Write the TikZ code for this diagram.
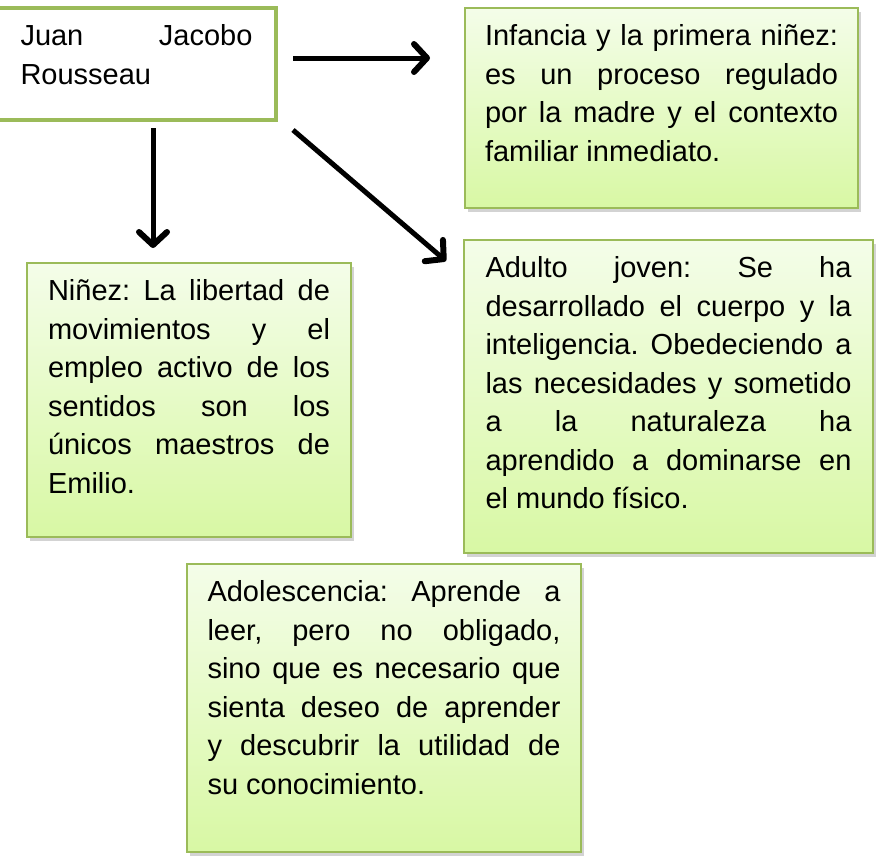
\documentclass[tikz,border=0pt]{standalone}
\usepackage{fontspec}
\setmainfont{Liberation Sans}
\usetikzlibrary{arrows.meta,shadows}

\definecolor{boxline}{HTML}{9BBB59}
\definecolor{boxtop}{HTML}{F4FDE9}
\definecolor{boxbottom}{HTML}{D8F8A4}

\hyphenpenalty=10000
\hbadness=10000
\frenchspacing

\begin{document}
\begin{tikzpicture}[x=1pt, y=-1pt,
    plainbox/.style={rectangle, draw=boxline, line width=2.5pt, outer sep=0pt,
                     anchor=north west, align=justify, inner ysep=0pt, text height=37.5pt,
                     font=\fontsize{29}{38.5}\selectfont},
    greenbox/.style={plainbox, top color=boxtop, bottom color=boxbottom,
                     drop shadow={shadow xshift=2.5pt, shadow yshift=-3.5pt, opacity=.35}},
    arr/.style={line width=5pt, -{Straight Barb[length=13pt,width=28pt,line width=6pt,round]}}]
\useasboundingbox (0,0) rectangle (877,857);

\node[plainbox, line width=3.5pt, fill=white, text width=232pt, inner xsep=23.5pt,
      text depth=74.5pt] (juan) at (-3,8) {Juan Jacobo\linebreak Rousseau};

\node[greenbox, text width=353pt, inner xsep=20pt, text depth=162.5pt] (infancia) at (465,8)
  {Infancia y la primera niñez:\linebreak es un proceso regulado\linebreak
   por la madre y el contexto\linebreak familiar inmediato.};

\node[greenbox, text width=282pt, inner xsep=21pt, text depth=236.5pt] (ninez) at (27,263)
  {Niñez: La libertad de\linebreak movimientos y el\linebreak empleo activo de los\linebreak
   sentidos son los\linebreak únicos maestros de\linebreak Emilio.};

\node[greenbox, text width=366pt, inner xsep=21.5pt, text depth=275.5pt] (adulto) at (464,240)
  {Adulto joven: Se ha\linebreak desarrollado el cuerpo y la\linebreak
   inteligencia. Obedeciendo a\linebreak las necesidades y sometido\linebreak
   a la naturaleza ha\linebreak aprendido a dominarse en\linebreak el mundo físico.};

\node[greenbox, text width=353pt, inner xsep=20.5pt, text depth=250.5pt] (adolescencia) at (187,564)
  {Adolescencia: Aprende a\linebreak leer, pero no obligado,\linebreak
   sino que es necesario que\linebreak sienta deseo de aprender\linebreak
   y descubrir la utilidad de\linebreak su conocimiento.};

% arrows
\coordinate (h0) at (293,58);
\coordinate (h1) at (430,58);
\coordinate (v0) at (153,128);
\coordinate (v1) at (153,248);
\coordinate (d0) at (293,130);
\coordinate (d1) at (446,261);

\draw[arr] (h0) -- (h1);
\draw[arr] (v0) -- (v1);
\draw[arr] (d0) -- (d1);
\end{tikzpicture}
\end{document}
